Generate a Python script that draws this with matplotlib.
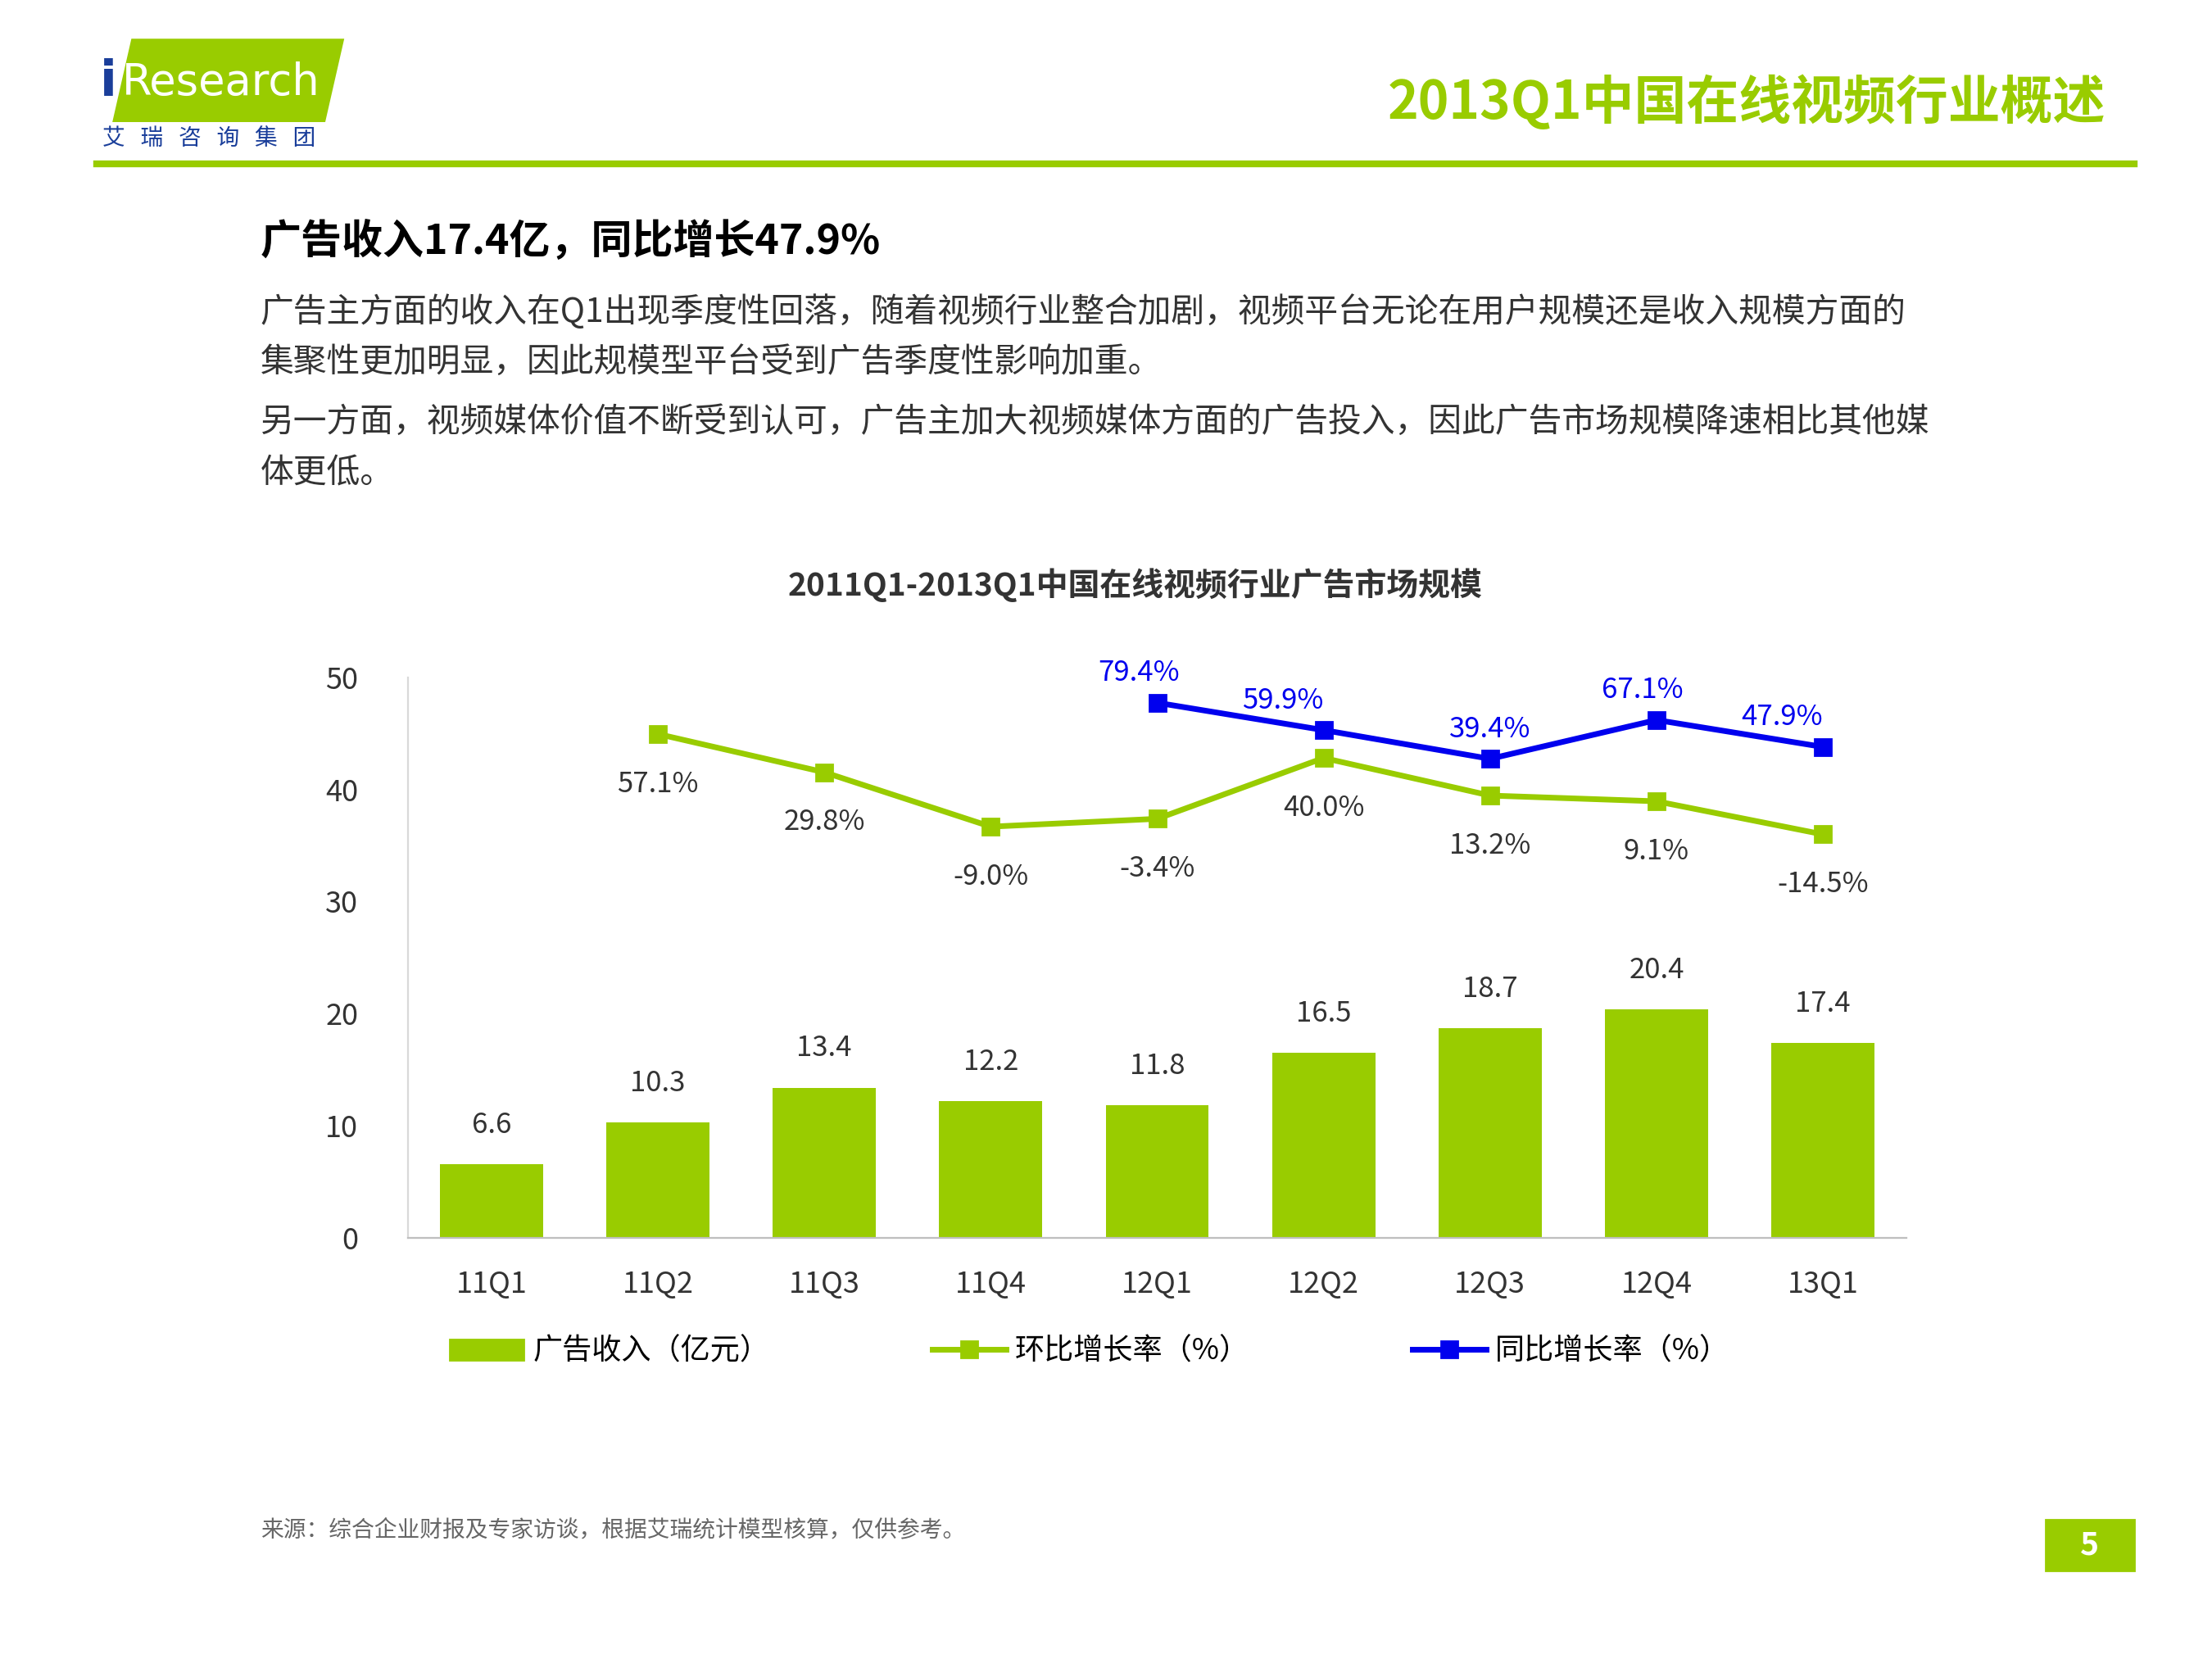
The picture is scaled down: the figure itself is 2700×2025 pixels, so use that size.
import matplotlib
matplotlib.use('Agg')
import matplotlib.pyplot as plt
from matplotlib.patches import Rectangle, Polygon
from matplotlib.lines import Line2D

plt.rcParams['font.family'] = ['Noto Sans CJK SC', 'DejaVu Sans']

quarters = ['11Q1', '11Q2', '11Q3', '11Q4', '12Q1', '12Q2', '12Q3', '12Q4', '13Q1']
revenue = [6.6, 10.3, 13.4, 12.2, 11.8, 16.5, 18.7, 20.4, 17.4]
qoq = [None, 57.1, 29.8, -9.0, -3.4, 40.0, 13.2, 9.1, -14.5]
yoy = [None, None, None, None, 79.4, 59.9, 39.4, 67.1, 47.9]

GREEN = '#99cc00'
BLUE = '#0000ee'
W, H = 1555, 1166

fig = plt.figure(figsize=(13.5, 10.125), dpi=200)

def fx(x): return x / W
def fy(y): return 1 - y / H

# header
fig.patches.append(Polygon([[fx(80), fy(85)], [fx(228), fy(85)], [fx(241), fy(28)], [fx(93), fy(28)]],
                           closed=True, transform=fig.transFigure, color=GREEN))
fig.text(fx(70), fy(58), 'i', color='#1a3e9a', fontsize=22, fontweight='bold', va='center', family='DejaVu Sans')
fig.text(fx(86), fy(58), 'Research', color='white', fontsize=19, va='center', family='DejaVu Sans')
fig.text(fx(72), fy(97), '艾   瑞   咨   询   集   团', color='#1a3e9a', fontsize=10, va='center')
fig.text(fx(1480), fy(72), '2013Q1中国在线视频行业概述', color=GREEN, fontsize=23, fontweight='bold',
         ha='right', va='center')
fig.add_artist(Line2D([fx(68), fx(1500)], [fy(115), fy(115)], color=GREEN, lw=3, transform=fig.transFigure))

fig.text(fx(183), fy(170), '广告收入17.4亿，同比增长47.9%', fontsize=18, fontweight='bold', va='center')
body = [(219, '广告主方面的收入在Q1出现季度性回落，随着视频行业整合加剧，视频平台无论在用户规模还是收入规模方面的'),
        (255, '集聚性更加明显，因此规模型平台受到广告季度性影响加重。'),
        (297, '另一方面，视频媒体价值不断受到认可，广告主加大视频媒体方面的广告投入，因此广告市场规模降速相比其他媒'),
        (333, '体更低。')]
for y, t in body:
    fig.text(fx(183), fy(y), t, fontsize=14.7, color='#333333', va='center')

fig.text(fx(798), fy(411), '2011Q1-2013Q1中国在线视频行业广告市场规模', fontsize=14, fontweight='bold',
         color='#333333', ha='center', va='center')

# chart
ax = fig.add_axes([fx(287), fy(870), fx(1340 - 287), fy(476) - fy(870)])
x = range(len(quarters))
ax.bar(x, revenue, width=0.62, color=GREEN)
for i, v in enumerate(revenue):
    ax.text(i, v + 2.2, f'{v}', ha='center', va='bottom', fontsize=12.5, color='#333333')
ax.set_xlim(-0.5, len(quarters) - 0.5)
ax.set_ylim(0, 50)
ax.set_yticks(range(0, 51, 10))
ax.set_xticks(list(x))
ax.set_xticklabels(quarters)
ax.tick_params(length=0, labelsize=13, colors='#333333', pad=14)
ax.tick_params(axis='y', pad=22)
for s in ['top', 'right']:
    ax.spines[s].set_visible(False)
ax.spines['left'].set_color('#d9d9d9')
ax.spines['bottom'].set_color('#bfbfbf')

# growth rates on hidden secondary scale
a, b = 37.8, 0.125
ax2 = ax.twinx()
ax2.set_ylim((0 - a) / b, (50 - a) / b)
ax2.axis('off')
qi = [i for i, v in enumerate(qoq) if v is not None]
yi = [i for i, v in enumerate(yoy) if v is not None]
ax2.plot(qi, [qoq[i] for i in qi], color=GREEN, lw=2.5, marker='s', ms=7)
ax2.plot(yi, [yoy[i] for i in yi], color=BLUE, lw=2.5, marker='s', ms=7)
for i in qi:
    ax2.annotate(f'{qoq[i]:.1f}%', (i, qoq[i]), xytext=(0, -22), textcoords='offset points',
                 ha='center', va='center', fontsize=12.5, color='#333333')
for i in yi:
    dx = {4: -8, 5: -18, 6: 0, 7: -6, 8: -18}[i]
    ax2.annotate(f'{yoy[i]:.1f}%', (i, yoy[i]), xytext=(dx, 13), textcoords='offset points',
                 ha='center', va='center', fontsize=12.5, color=BLUE)

handles = [Rectangle((0, 0), 1, 1, color=GREEN),
           Line2D([], [], color=GREEN, lw=2.5, marker='s', ms=7),
           Line2D([], [], color=BLUE, lw=2.5, marker='s', ms=7)]
fig.legend(handles, ['广告收入（亿元）', '环比增长率（%）', '同比增长率（%）'], ncol=3, frameon=False,
           loc='center', bbox_to_anchor=(fx(766), fy(950)), fontsize=13, columnspacing=5.5,
           handlelength=2.5, handletextpad=0.3)

fig.text(fx(183), fy(1075), '来源：综合企业财报及专家访谈，根据艾瑞统计模型核算，仅供参考。', fontsize=10,
         color='#666666', va='center')
fig.patches.append(Rectangle((fx(1438), fy(1104)), fx(62), fy(1068) - fy(1104), color=GREEN,
                             transform=fig.transFigure))
fig.text(fx(1469), fy(1086), '5', color='white', fontsize=14, fontweight='bold', ha='center', va='center')

fig.savefig('out.png', dpi=200)
